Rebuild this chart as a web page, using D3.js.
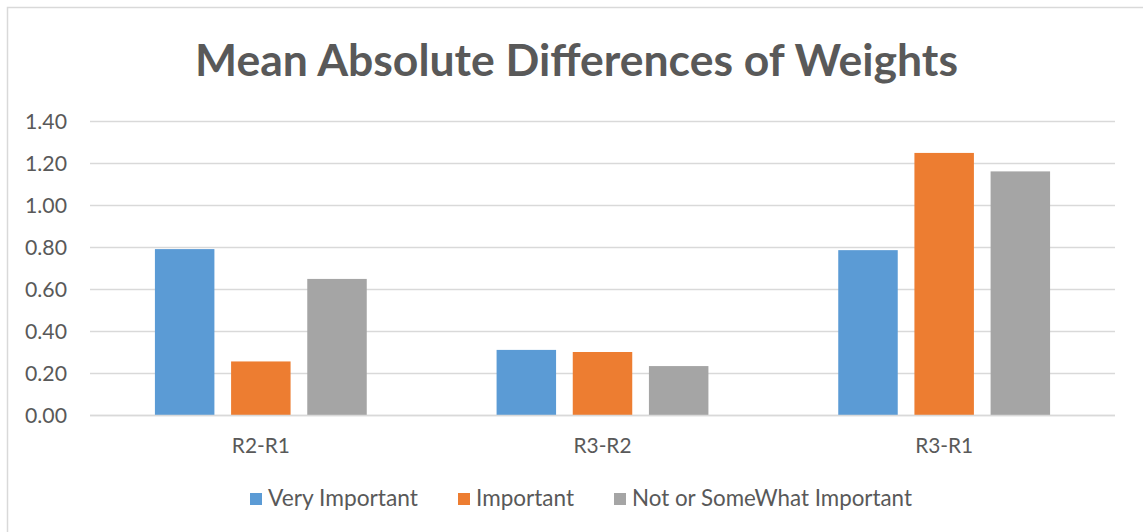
<!DOCTYPE html>
<html>
<head>
<meta charset="utf-8">
<script src="https://cdn.jsdelivr.net/npm/d3@7"></script>
<style>
  html, body { margin: 0; padding: 0; background: #fff; }
  svg { display: block; }
  text { font-family: Lato, "Open Sans", sans-serif; fill: #595959; }
</style>
</head>
<body>
<svg id="chart" width="1143" height="532"></svg>
<script>
// Mean absolute differences of weights between rounds
const categories = ["R2-R1", "R3-R2", "R3-R1"];
const seriesNames = ["Very Important", "Important", "Not or SomeWhat Important"];
const veryImportant = [0.79, 0.31, 0.785];
const important = [0.255, 0.30, 1.248];
const notOrSomewhat = [0.648, 0.233, 1.16];
const yTicks = [0, 0.2, 0.4, 0.6, 0.8, 1.0, 1.2, 1.4];
const colors = ["#5b9bd5", "#ed7d31", "#a5a5a5"];

const seriesValues = [veryImportant, important, notOrSomewhat];

const svg = d3.select("#chart");
const W = 1143, H = 532;

// chart frame
svg.append("rect")
  .attr("x", 7.5).attr("y", 7.5)
  .attr("width", W).attr("height", H)
  .attr("fill", "#fff")
  .attr("stroke", "#d9d9d9").attr("stroke-width", 1.5);

const plot = { left: 90, right: 1115, top: 121, bottom: 415 };

const y = d3.scaleLinear().domain([0, 1.4]).range([plot.bottom, plot.top]);
const x0 = d3.scaleBand().domain(categories)
  .range([plot.left, plot.right]).paddingInner(0.38).paddingOuter(0.19);
const x1 = d3.scaleBand().domain(seriesNames)
  .range([0, x0.bandwidth()]).paddingInner(0.219).paddingOuter(0);

// font size that makes a text node span the given width
function fittedSize(node, target) {
  const fs = parseFloat(d3.select(node).attr("font-size"));
  const w = node.getComputedTextLength();
  return w > 0 ? fs * target / w : fs;
}
function fit(sel, target) {
  sel.attr("font-size", fittedSize(sel.node(), target).toFixed(2));
  return sel;
}

// title
fit(svg.append("text")
  .attr("x", 576.5).attr("y", 76)
  .attr("text-anchor", "middle")
  .attr("font-size", 40).attr("font-weight", "bold")
  .text("Mean Absolute Differences of Weights"), 763);

// gridlines
svg.append("g")
  .selectAll("line").data(yTicks).join("line")
  .attr("x1", plot.left).attr("x2", plot.right)
  .attr("y1", d => Math.round(y(d)) + 0.5).attr("y2", d => Math.round(y(d)) + 0.5)
  .attr("stroke", "#d9d9d9").attr("stroke-width", 1.5);

// y axis labels
const yAxis = d3.axisLeft(y).tickValues(yTicks).tickFormat(d3.format(".2f")).tickSize(0).tickPadding(0);
const yg = svg.append("g").attr("transform", `translate(67,0)`).call(yAxis);
yg.select(".domain").remove();
const yTexts = yg.selectAll("text")
  .attr("font-size", 17.5)
  .attr("font-family", "Lato, 'Open Sans', sans-serif")
  .attr("fill", "#595959")
  .attr("dy", "0.36em");
const ySize = fittedSize(yTexts.nodes()[yTexts.size() - 1], 42);
yTexts.attr("font-size", ySize.toFixed(2));

// bars
const groups = svg.append("g").selectAll("g").data(categories).join("g")
  .attr("transform", d => `translate(${x0(d)},0)`);
groups.selectAll("rect")
  .data((c, ci) => seriesNames.map((s, si) => ({ s, si, v: seriesValues[si][ci] })))
  .join("rect")
  .attr("x", d => x1(d.s))
  .attr("width", x1.bandwidth())
  .attr("y", d => y(d.v))
  .attr("height", d => y(0) - y(d.v))
  .attr("fill", d => colors[d.si]);

// baseline over bars
svg.append("line")
  .attr("x1", plot.left).attr("x2", plot.right)
  .attr("y1", Math.round(y(0)) + 0.5).attr("y2", Math.round(y(0)) + 0.5)
  .attr("stroke", "#d9d9d9").attr("stroke-width", 1.5);

// category labels
const xAxis = d3.axisBottom(x0).tickSize(0).tickPadding(0);
const xg = svg.append("g").attr("transform", `translate(0,453)`).call(xAxis);
xg.select(".domain").remove();
const xTexts = xg.selectAll("text")
  .attr("font-size", 17)
  .attr("font-family", "Lato, 'Open Sans', sans-serif")
  .attr("fill", "#595959")
  .attr("dy", 0);
const xSize = fittedSize(xTexts.nodes()[0], 58);
xTexts.attr("font-size", xSize.toFixed(2));

// legend
const legendPos = [
  { sx: 250, tx: 268, tw: 150 },
  { sx: 458, tx: 476, tw: 98 },
  { sx: 614, tx: 632, tw: 280 }
];
const legend = svg.append("g");
seriesNames.forEach((name, i) => {
  const p = legendPos[i];
  legend.append("rect")
    .attr("x", p.sx).attr("y", 493).attr("width", 12).attr("height", 12)
    .attr("fill", colors[i]);
  fit(legend.append("text")
    .attr("x", p.tx).attr("y", 506)
    .attr("font-size", 19)
    .text(name), p.tw);
});
</script>
</body>
</html>
